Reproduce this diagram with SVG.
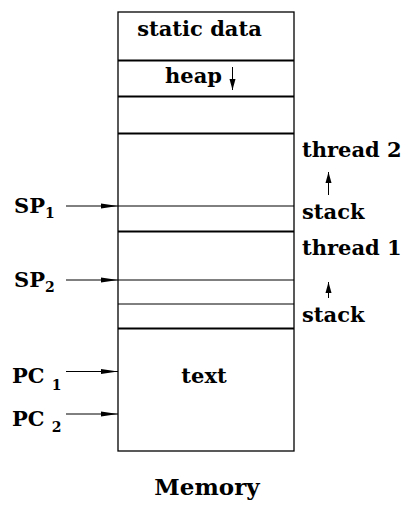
<svg xmlns="http://www.w3.org/2000/svg" width="409" height="506" viewBox="0 0 409 506">
  <style>
    .lbl { font-family: "DejaVu Serif", "Liberation Serif", serif; font-weight: bold; font-size: 21px; fill: #000; }
    .sub { font-size: 14px; }
    .cap { font-size: 23px; }
    .thick { stroke: #000; stroke-width: 2.2; fill: none; }
    .thin { stroke: #000; stroke-width: 1; fill: none; }
    .box { stroke: #000; stroke-width: 1.3; fill: #fff; }
    .conn { stroke: #000; stroke-width: 1; fill: none; }
  </style>
  <defs>
    <marker id="ah" viewBox="0 0 17 6" refX="17" refY="3" markerWidth="17" markerHeight="6" markerUnits="userSpaceOnUse" orient="auto">
      <path d="M0,0.5 L17,3 L0,5.5 z" fill="#000"/>
    </marker>
    <marker id="ahs" viewBox="0 0 11 7" refX="11" refY="3.5" markerWidth="11" markerHeight="7" markerUnits="userSpaceOnUse" orient="auto">
      <path d="M0,0.5 L11,3.5 L0,6.5 z" fill="#000"/>
    </marker>
  </defs>

  <rect width="409" height="506" fill="#fff"/>

  <!-- memory column -->
  <g id="memory">
    <rect class="box" x="118" y="12" width="176" height="439"/>
    <line class="thick" x1="118" y1="60.5" x2="294" y2="60.5"/>
    <line class="thick" x1="118" y1="96.5" x2="294" y2="96.5"/>
    <line class="thick" x1="118" y1="133.5" x2="294" y2="133.5"/>
    <line class="thin" x1="118" y1="206" x2="294" y2="206"/>
    <line class="thick" x1="118" y1="231.5" x2="294" y2="231.5"/>
    <line class="thin" x1="118" y1="280" x2="294" y2="280"/>
    <line class="thin" x1="118" y1="304" x2="294" y2="304"/>
    <line class="thick" x1="118" y1="328.5" x2="294" y2="328.5"/>
  </g>

  <g id="static-data">
    <text class="lbl" x="199.5" y="36" text-anchor="middle">static data</text>
  </g>
  <g id="heap">
    <text class="lbl" x="193.5" y="83" text-anchor="middle">heap</text>
  </g>
  <g id="text-segment">
    <text class="lbl" x="204" y="383" text-anchor="middle">text</text>
  </g>

  <g id="thread2">
    <text class="lbl" x="302" y="157">thread 2</text>
    <text class="lbl" x="302" y="219">stack</text>
  </g>
  <g id="thread1">
    <text class="lbl" x="302" y="255">thread 1</text>
    <text class="lbl" x="302" y="322">stack</text>
  </g>

  <g id="sp1">
    <text class="lbl" x="14" y="213">SP<tspan class="sub" dy="5">1</tspan></text>
  </g>
  <g id="sp2">
    <text class="lbl" x="14" y="287">SP<tspan class="sub" dy="5">2</tspan></text>
  </g>
  <g id="pc1">
    <text class="lbl" x="12" y="383">PC <tspan class="sub" dy="7">1</tspan></text>
  </g>
  <g id="pc2">
    <text class="lbl" x="12" y="426">PC <tspan class="sub" dy="6">2</tspan></text>
  </g>

  <g id="caption">
    <text class="lbl cap" x="207" y="495" text-anchor="middle">Memory</text>
  </g>

  <!-- connectors -->
  <g id="connectors">
    <line class="conn" x1="66" y1="206" x2="118" y2="206" marker-end="url(#ah)"/>
    <line class="conn" x1="66" y1="280" x2="118" y2="280" marker-end="url(#ah)"/>
    <line class="conn" x1="66" y1="371.5" x2="118" y2="371.5" marker-end="url(#ah)"/>
    <line class="conn" x1="66" y1="414" x2="118" y2="414" marker-end="url(#ah)"/>
    <line class="conn" x1="232.5" y1="67" x2="232.5" y2="90" marker-end="url(#ahs)"/>
    <line class="conn" x1="328.5" y1="195" x2="328.5" y2="172" marker-end="url(#ahs)"/>
    <line class="conn" x1="328.5" y1="298" x2="328.5" y2="282" marker-end="url(#ahs)"/>
  </g>
</svg>
